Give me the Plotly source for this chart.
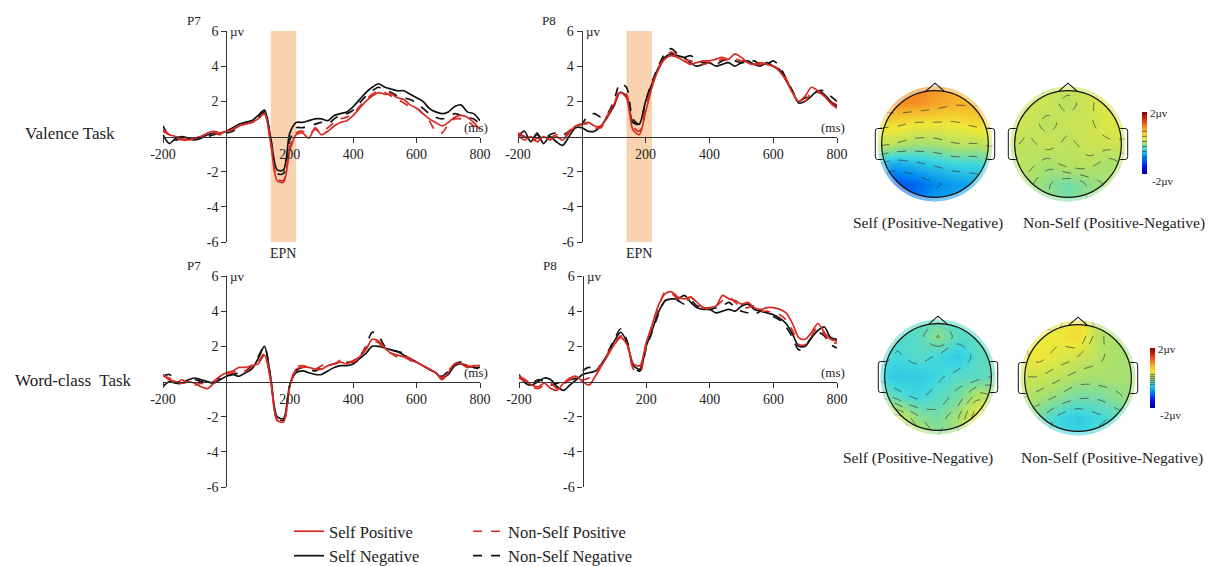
import plotly.graph_objects as go

W, H = 1209, 566
SERIF = "Liberation Serif, Times New Roman, serif"
INK = "#222222"
RED = "#D82A22"
BLACK = "#111111"

# ---------------- ERP waveforms (µV), sampled every 20 ms ----------------
times = list(range(-200, 801, 20))

# Valence task, P7
val_p7_self_pos = [0.3, 0.1, 0.0, -0.1, -0.2, -0.1, 0.0, 0.2, 0.3, 0.2, 0.3, 0.4, 0.6, 0.7, 0.8, 1.0, 1.3, -0.4, -2.5, -2.6,
                   -0.8, 0.1, 0.2, -0.1, 0.5, 0.1, 0.3, 0.6, 0.8, 0.9, 1.2, 1.6, 2.0, 2.3, 2.5, 2.4, 2.4, 2.2, 2.1, 1.8,
                   1.6, 1.3, 1.0, 0.8, 0.6, 0.8, 1.1, 1.2, 1.1, 0.8, 0.4]
val_p7_self_neg = [0.1, -0.4, -0.1, 0.0, -0.1, -0.2, -0.1, 0.1, 0.2, 0.2, 0.3, 0.5, 0.7, 0.8, 0.9, 1.2, 1.5, -0.1, -1.9, -1.9,
                   0.2, 0.8, 0.8, 0.9, 1.0, 1.0, 0.9, 1.2, 1.3, 1.4, 1.7, 2.1, 2.5, 2.8, 3.0, 2.8, 2.7, 2.6, 2.6, 2.4,
                   2.2, 2.0, 1.6, 1.4, 1.3, 1.4, 1.7, 1.8, 1.4, 1.3, 0.9]
val_p7_non_pos = [0.4, 0.1, -0.1, -0.2, -0.2, -0.1, 0.0, 0.1, 0.2, 0.1, 0.2, 0.4, 0.6, 0.7, 0.8, 1.0, 1.3, -0.4, -2.4, -2.5,
                  -0.6, 0.2, 0.3, 0.1, 0.4, 0.2, 0.5, 0.8, 1.0, 1.1, 1.3, 1.7, 2.1, 2.4, 2.6, 2.5, 2.3, 2.1, 1.9, 1.7,
                  1.6, 1.3, 0.9, 0.3, 0.2, 0.7, 1.0, 1.0, 0.9, 0.6, 0.6]
val_p7_non_neg = [0.6, 0.0, -0.2, -0.1, -0.2, -0.1, -0.1, 0.0, 0.1, 0.2, 0.2, 0.3, 0.6, 0.8, 0.9, 1.1, 1.4, -0.2, -2.1, -2.1,
                  -0.2, 0.5, 0.5, 0.6, 0.7, 0.8, 0.7, 1.0, 1.2, 1.3, 1.5, 1.9, 2.3, 2.6, 2.8, 2.6, 2.5, 2.3, 2.2, 2.1,
                  1.9, 1.6, 1.3, 1.1, 1.0, 1.1, 1.3, 1.2, 1.1, 1.0, 0.7]

# Valence task, P8
val_p8_self_pos = [0.1, -0.2, 0.0, -0.3, 0.0, -0.2, 0.0, -0.2, 0.2, 0.6, 0.7, 0.8, 0.6, 0.6, 1.2, 1.8, 2.5, 2.2, 0.4, 0.1,
                   1.4, 2.8, 3.8, 4.4, 4.6, 4.5, 4.3, 4.1, 4.2, 4.3, 4.3, 4.4, 4.5, 4.4, 4.7, 4.5, 4.2, 4.1, 4.2, 4.1,
                   4.0, 3.7, 3.2, 2.5, 2.0, 2.3, 2.8, 2.6, 2.3, 1.9, 1.6]
val_p8_self_neg = [0.0, 0.3, -0.3, 0.2, -0.4, 0.0, -0.3, -0.5, 0.0, 0.5, 0.5, 0.3, 0.3, 0.6, 1.1, 1.7, 2.5, 2.3, 0.8, 0.7,
                   2.0, 3.0, 3.9, 4.5, 4.7, 4.6, 4.5, 4.2, 4.0, 4.1, 4.2, 4.0, 4.1, 4.2, 4.0, 4.2, 4.3, 4.1, 4.0, 4.2,
                   4.0, 3.8, 3.2, 2.6, 1.9, 2.0, 2.3, 2.6, 2.4, 2.0, 1.7]
val_p8_non_pos = [0.2, 0.0, -0.3, -0.1, -0.2, -0.1, 0.1, -0.1, 0.3, 0.6, 0.7, 0.7, 0.5, 0.5, 1.1, 1.8, 2.6, 2.4, 0.6, 0.3,
                  1.6, 2.9, 3.9, 4.5, 4.8, 4.6, 4.4, 4.3, 4.2, 4.1, 4.2, 4.2, 4.4, 4.3, 4.4, 4.3, 4.3, 4.1, 4.1, 4.1,
                  4.0, 3.8, 3.3, 2.6, 1.9, 2.0, 2.5, 2.5, 2.3, 2.0, 1.8]
val_p8_non_neg = [0.1, 0.0, -0.2, 0.1, -0.2, 0.1, 0.2, 0.1, 0.3, 0.6, 0.7, 1.2, 1.3, 1.1, 1.3, 2.0, 3.0, 2.8, 1.0, 0.7,
                  2.0, 3.1, 4.0, 4.7, 5.0, 4.7, 4.5, 4.6, 4.4, 4.2, 4.2, 4.1, 4.3, 4.4, 4.3, 4.2, 4.2, 4.3, 4.1, 4.1,
                  4.3, 4.0, 3.3, 2.6, 2.0, 2.2, 2.3, 2.6, 2.6, 2.3, 2.0]

# Word-class task, P7
word_p7_self_pos = [0.4, 0.1, 0.0, -0.1, 0.0, -0.1, -0.3, -0.4, -0.1, 0.3, 0.5, 0.6, 0.8, 0.8, 0.9, 1.0, 1.5, 0.0, -2.2, -2.3,
                    -0.3, 0.7, 0.8, 0.8, 0.7, 0.7, 0.9, 1.0, 1.1, 1.0, 1.2, 1.4, 1.8, 2.4, 2.3, 1.9, 1.6, 1.5, 1.4, 1.2,
                    1.1, 0.9, 0.7, 0.5, 0.1, 0.5, 1.0, 1.0, 0.8, 0.9, 0.9]
word_p7_self_neg = [-0.3, 0.0, -0.1, -0.1, 0.1, 0.2, 0.1, 0.0, -0.1, 0.1, 0.3, 0.4, 0.3, 0.5, 0.7, 1.3, 2.0, 0.2, -2.0, -2.1,
                    -0.2, 0.5, 0.6, 0.5, 0.4, 0.4, 0.6, 0.8, 0.9, 0.9, 1.0, 1.3, 1.6, 2.0, 2.0, 1.9, 1.8, 1.7, 1.5, 1.3,
                    1.1, 0.9, 0.7, 0.5, 0.2, 0.4, 0.9, 1.0, 0.9, 0.8, 0.8]
word_p7_non_pos = [0.3, 0.2, -0.1, 0.1, -0.1, -0.2, -0.1, -0.2, 0.0, 0.3, 0.4, 0.5, 0.7, 0.6, 0.8, 1.1, 1.6, 0.1, -2.2, -2.3,
                   -0.3, 0.8, 0.9, 0.8, 0.7, 0.9, 1.0, 1.0, 1.2, 1.2, 1.1, 1.4, 1.9, 2.3, 2.2, 1.8, 1.6, 1.4, 1.5, 1.3,
                   1.1, 0.9, 0.7, 0.5, 0.2, 0.6, 1.0, 1.1, 0.9, 0.8, 0.8]
word_p7_non_neg = [0.3, 0.4, 0.0, -0.1, 0.0, 0.1, 0.0, -0.1, 0.0, 0.2, 0.3, 0.4, 0.5, 0.6, 0.9, 1.4, 2.0, 0.1, -2.1, -2.2,
                   -0.2, 0.6, 0.8, 0.7, 0.6, 0.8, 0.9, 1.0, 1.1, 1.1, 1.1, 1.4, 2.0, 2.8, 2.6, 2.0, 1.8, 1.7, 1.6, 1.3,
                   1.1, 0.9, 0.7, 0.5, 0.3, 0.6, 1.0, 1.1, 0.9, 0.8, 0.7]

# Word-class task, P8
word_p8_self_pos = [0.3, 0.1, -0.2, -0.3, -0.1, -0.4, -0.5, -0.1, 0.2, 0.3, 0.0, -0.2, 0.3, 0.9, 1.5, 2.1, 2.5, 2.1, 1.0, 0.9,
                    2.2, 3.3, 4.4, 5.0, 5.1, 4.8, 4.7, 4.8, 4.5, 4.2, 4.2, 4.3, 4.9, 4.7, 4.6, 4.4, 4.5, 4.2, 4.1, 4.2,
                    4.2, 4.1, 3.9, 3.3, 2.5, 2.4, 2.8, 3.3, 2.8, 2.4, 2.3]
word_p8_self_neg = [0.4, -0.1, -0.2, 0.0, 0.2, 0.1, -0.3, -0.5, -0.2, 0.1, 0.4, 0.5, 0.6, 1.0, 1.6, 2.3, 2.8, 2.2, 0.9, 0.7,
                    2.0, 3.0, 4.0, 4.6, 4.7, 4.7, 4.9, 4.5, 4.2, 4.1, 4.1, 3.9, 4.0, 4.1, 4.0, 4.3, 4.4, 4.1, 4.0, 3.9,
                    3.8, 3.6, 3.3, 2.7, 2.0, 2.0, 2.5, 2.9, 3.1, 2.5, 2.4]
word_p8_non_pos = [0.2, 0.0, -0.3, -0.4, -0.2, -0.1, -0.4, -0.2, 0.1, 0.2, 0.1, 0.2, 0.5, 1.0, 1.6, 2.2, 2.6, 2.1, 0.7, 0.5,
                   2.1, 3.2, 4.3, 5.1, 5.0, 4.7, 4.5, 4.8, 4.4, 4.2, 4.1, 4.3, 4.6, 4.8, 4.5, 4.2, 4.2, 4.3, 4.0, 4.0,
                   3.9, 3.8, 3.5, 2.9, 2.1, 2.1, 2.6, 3.1, 2.7, 2.2, 2.2]
word_p8_non_neg = [0.3, 0.0, -0.1, 0.1, 0.0, -0.2, -0.1, 0.0, 0.1, 0.2, 0.6, 0.8, 0.7, 1.0, 1.7, 2.4, 3.0, 2.3, 0.8, 0.6,
                   1.9, 2.9, 3.9, 4.6, 4.7, 4.6, 4.4, 4.6, 4.3, 4.2, 4.1, 4.2, 4.3, 4.5, 4.2, 4.0, 3.9, 3.8, 4.0, 3.9,
                   3.7, 3.5, 3.1, 2.5, 1.8, 2.0, 2.5, 2.8, 2.6, 2.1, 1.9]

epn_window = (140, 220)
x_tick_vals = [-200, 200, 400, 600, 800]
x_tick_text = ["-200", "200", "400", "600", "800"]
y_tick_vals = [-6, -4, -2, 2, 4, 6]
y_tick_text = ["-6", "-4", "-2", "2", "4", "6"]

# ---------------- Scalp maps: Positive minus Negative (µV) ----------------
# rows run posterior (bottom) -> anterior (top), columns left -> right
grid_pos = [-1.05, -0.7, -0.35, 0.0, 0.35, 0.7, 1.05]

val_self_map = [
    [-0.8, -1.0, -1.0, -0.8, -0.7, -0.6, -0.5],
    [-1.0, -1.2, -1.1, -0.9, -0.8, -0.7, -0.6],
    [-0.5, -0.7, -0.6, -0.5, -0.4, -0.4, -0.3],
    [0.2, 0.1, 0.0, 0.0, 0.1, 0.1, 0.2],
    [0.5, 0.5, 0.4, 0.4, 0.4, 0.5, 0.5],
    [0.9, 1.0, 1.0, 0.9, 0.8, 0.8, 0.6],
    [1.0, 1.1, 1.1, 1.0, 0.9, 0.7, 0.5],
]
val_non_map = [
    [0.0, 0.0, -0.1, -0.2, -0.1, 0.0, 0.0],
    [0.1, 0.0, -0.1, -0.2, -0.1, 0.0, 0.1],
    [0.1, 0.1, 0.0, 0.1, 0.1, 0.0, 0.1],
    [0.2, 0.1, 0.2, 0.1, 0.2, 0.2, 0.2],
    [0.2, 0.2, 0.1, 0.2, 0.2, 0.3, 0.3],
    [0.1, 0.2, 0.2, 0.1, 0.2, 0.3, 0.4],
    [0.1, 0.1, 0.1, 0.2, 0.2, 0.3, 0.3],
]
word_self_map = [
    [0.2, 0.3, 0.1, -0.1, 0.0, 0.3, 0.2],
    [0.1, 0.2, -0.1, -0.2, 0.0, 0.4, 0.2],
    [-0.1, -0.3, -0.4, -0.3, -0.2, 0.1, 0.0],
    [-0.4, -0.5, -0.5, -0.4, -0.3, -0.3, -0.2],
    [-0.3, -0.4, -0.3, -0.4, -0.5, -0.3, -0.3],
    [-0.3, -0.3, -0.3, -0.1, -0.3, -0.3, -0.3],
    [-0.4, -0.4, -0.3, -0.3, -0.3, -0.4, -0.4],
]
word_non_map = [
    [-0.2, -0.3, -0.4, -0.4, -0.3, -0.3, -0.2],
    [-0.1, -0.2, -0.4, -0.5, -0.4, -0.3, -0.2],
    [0.1, 0.0, -0.1, -0.2, -0.2, -0.1, 0.0],
    [0.2, 0.2, 0.1, 0.0, 0.0, 0.0, 0.0],
    [0.3, 0.4, 0.3, 0.2, 0.1, 0.0, 0.0],
    [0.3, 0.4, 0.4, 0.5, 0.1, 0.0, 0.0],
    [0.2, 0.3, 0.3, 0.5, 0.1, 0.0, -0.1],
]

map_scale = [
    [0.00, "#00008A"], [0.12, "#0010F0"], [0.28, "#0090F0"], [0.40, "#40D8E0"],
    [0.50, "#A8E070"], [0.60, "#F0E838"], [0.72, "#F8A828"], [0.86, "#E83818"], [1.00, "#800000"],
]
N_CONTOURS = 6


def fx(p):
    return p / W


def fy(p):
    return 1 - p / H


fig = go.Figure()
layout = {}
shapes = []
annotations = []


def note(text, x, y, size=13, xanchor="center", yanchor="middle", **kw):
    annotations.append(dict(text=text, x=x, y=y, xref=kw.pop("xref", "paper"), yref=kw.pop("yref", "paper"),
                            showarrow=False, xanchor=xanchor, yanchor=yanchor,
                            font=dict(family=SERIF, size=size, color=INK), **kw))


# ---------------- ERP panels ----------------
erp_panels = [
    ("P7", True, (163, 480), (31, 242),
     (val_p7_non_neg, val_p7_self_neg, val_p7_non_pos, val_p7_self_pos)),
    ("P8", True, (518, 837), (31, 242),
     (val_p8_non_neg, val_p8_self_neg, val_p8_non_pos, val_p8_self_pos)),
    ("P7", False, (163, 480), (276, 487),
     (word_p7_non_neg, word_p7_self_neg, word_p7_non_pos, word_p7_self_pos)),
    ("P8", False, (519, 837), (276, 487),
     (word_p8_non_neg, word_p8_self_neg, word_p8_non_pos, word_p8_self_pos)),
]
series_style = [
    ("Non-Self Negative", BLACK, "dash", "legend2", 2),
    ("Self Negative", BLACK, "solid", "legend", 2),
    ("Non-Self Positive", RED, "dash", "legend2", 1),
    ("Self Positive", RED, "solid", "legend", 1),
]

tick_font = dict(family=SERIF, size=14, color=INK)
for k, (chan, shaded, (x0, x1), (y0, y1), waves) in enumerate(erp_panels, start=1):
    sfx = "" if k == 1 else str(k)
    t0_px = x0 + 0.2 * (x1 - x0)
    v0_px = (y0 + y1) / 2
    layout["xaxis" + sfx] = dict(domain=[fx(x0), fx(x1)], range=[-200, 800], anchor="free", position=fy(v0_px),
                                 showline=True, linecolor="#333", linewidth=1.3, ticks="outside", ticklen=5,
                                 tickcolor="#333", tickvals=x_tick_vals, ticktext=x_tick_text, showgrid=False,
                                 zeroline=False, tickfont=tick_font, fixedrange=True)
    layout["yaxis" + sfx] = dict(domain=[fy(y1), fy(y0)], range=[-6, 6], anchor="free", position=fx(t0_px),
                                 showline=True, linecolor="#333", linewidth=1.3, ticks="outside", ticklen=5,
                                 tickcolor="#333", tickvals=y_tick_vals, ticktext=y_tick_text, showgrid=False,
                                 zeroline=False, tickfont=tick_font, fixedrange=True)
    for (name, color, dash, leg, rank), values in zip(series_style, waves):
        fig.add_trace(go.Scatter(
            x=times, y=values, mode="lines", name=name, xaxis="x" + sfx, yaxis="y" + sfx,
            line=dict(color=color, width=1.7, dash=dash, shape="spline", smoothing=0.8),
            showlegend=(k == 1), legend=leg, legendrank=rank, hoverinfo="skip"))
    if shaded:
        shapes.append(dict(type="rect", xref="x" + sfx, yref="y" + sfx, x0=epn_window[0], x1=epn_window[1],
                           y0=-6, y1=6, fillcolor="#F9D3B0", line=dict(width=0), layer="below"))
        note("EPN", (epn_window[0] + epn_window[1]) / 2, fy(253), size=14, xref="x" + sfx)
    note(chan, fx(x0 + 31), fy(y0 - 11), size=13)
    note("µv", fx(t0_px + 2), fy(y0 + 1), size=13, xanchor="left")
    note("(ms)", fx(x1 - 4), fy(v0_px - 9), size=13)

# ---------------- Scalp maps ----------------
R = 0.93
KAPPA = 0.5523


def circle_path(r):
    c = KAPPA * r
    return (f"M {r},0 C {r},{c} {c},{r} 0,{r} C {-c},{r} {-r},{c} {-r},0 "
            f"C {-r},{-c} {-c},{-r} 0,{-r} C {c},{-r} {r},{-c} {r},0 Z")


scalp_maps = [
    (val_self_map, (935, 144), "Self (Positive-Negative)", 928, 223, (1142, 112, 174)),
    (val_non_map, (1068, 144), "Non-Self (Positive-Negative)", 1114, 223, None),
    (word_self_map, (938, 377), "Self (Positive-Negative)", 918, 458, (1150, 348, 408)),
    (word_non_map, (1078, 378), "Non-Self (Positive-Negative)", 1112, 458, None),
]
half = 66
for k, (grid, (cx, cy), title, tx, ty, cbar) in enumerate(scalp_maps, start=5):
    sfx = str(k)
    ax = dict(range=[-1.15, 1.15], visible=False, fixedrange=True)
    layout["xaxis" + sfx] = dict(domain=[fx(cx - half), fx(cx + half)], anchor="y" + sfx, **ax)
    layout["yaxis" + sfx] = dict(domain=[fy(cy + half), fy(cy - half)], anchor="x" + sfx, **ax)
    cb = None
    if cbar:
        bx, btop, bbot = cbar
        cb = dict(x=fx(bx), xanchor="left", y=fy((btop + bbot) / 2), yanchor="middle", len=bbot - btop,
                  lenmode="pixels", thickness=5, thicknessmode="pixels", outlinewidth=0,
                  showticklabels=False, ticks="", xpad=0, ypad=0)
        note("2µv", fx(bx + 6), fy(btop + 1), size=11, xanchor="left")
        note("-2µv", fx(bx + 8), fy(bbot + 7), size=11, xanchor="left")
    # six iso-lines spread over each map's own range
    zlo = min(min(row) for row in grid)
    zhi = max(max(row) for row in grid)
    step = (zhi - zlo) / (N_CONTOURS + 1)
    fig.add_trace(go.Contour(
        x=grid_pos, y=grid_pos, z=grid, xaxis="x" + sfx, yaxis="y" + sfx,
        colorscale=map_scale, zmin=-2, zmax=2, zauto=False, autocontour=False,
        contours=dict(coloring="heatmap", showlines=True, start=zlo + step, end=zhi - step * 0.5, size=step),
        line=dict(color="#3a3a3a", width=0.7, dash="dash", smoothing=1.0),
        showscale=bool(cbar), colorbar=cb, hoverinfo="skip"))
    xr, yr = "x" + sfx, "y" + sfx
    # faded rim and white surround
    shapes.append(dict(type="path", xref=xr, yref=yr, path=circle_path(1.0) + " " + circle_path(R),
                       fillrule="evenodd", fillcolor="rgba(255,255,255,0.45)", line=dict(width=0)))
    shapes.append(dict(type="path", xref=xr, yref=yr,
                       path="M -1.3,-1.3 L 1.3,-1.3 L 1.3,1.3 L -1.3,1.3 Z " + circle_path(1.0),
                       fillrule="evenodd", fillcolor="white", line=dict(width=0)))
    # head outline, nose, ears
    shapes.append(dict(type="circle", xref=xr, yref=yr, x0=-R, y0=-R, x1=R, y1=R,
                       line=dict(color="#111", width=1.2)))
    shapes.append(dict(type="path", xref=xr, yref=yr,
                       path=f"M -0.16,{R - 0.01} L 0,{R + 0.13} L 0.16,{R - 0.01}",
                       line=dict(color="#111", width=1.1)))
    for s in (-1, 1):
        xi, xo, xm = s * (R - 0.02), s * (R + 0.07), s * (R + 0.11)
        shapes.append(dict(type="path", xref=xr, yref=yr,
                           path=(f"M {xi},0.27 L {xo},0.27 Q {xm},0.27 {xm},0.22 L {xm},-0.22 "
                                 f"Q {xm},-0.27 {xo},-0.27 L {xi},-0.27"),
                           line=dict(color="#111", width=1.0)))
    note(title, fx(tx), fy(ty), size=15.5)

# ---------------- Row labels ----------------
note("Valence Task", fx(70), fy(133), size=17)
note("Word-class\u00a0 Task", fx(73), fy(380), size=17)

legend_common = dict(xanchor="left", yanchor="top", orientation="v", bgcolor="rgba(0,0,0,0)",
                     font=dict(family=SERIF, size=16.5, color=INK), borderwidth=0)
layout["legend"] = dict(x=fx(289), y=fy(514), **legend_common)
layout["legend2"] = dict(x=fx(468), y=fy(514), **legend_common)

fig.update_layout(
    width=W, height=H, margin=dict(l=0, r=0, t=0, b=0, autoexpand=False),
    paper_bgcolor="white", plot_bgcolor="rgba(0,0,0,0)",
    shapes=shapes, annotations=annotations, **layout)

fig.write_html("out.html")
